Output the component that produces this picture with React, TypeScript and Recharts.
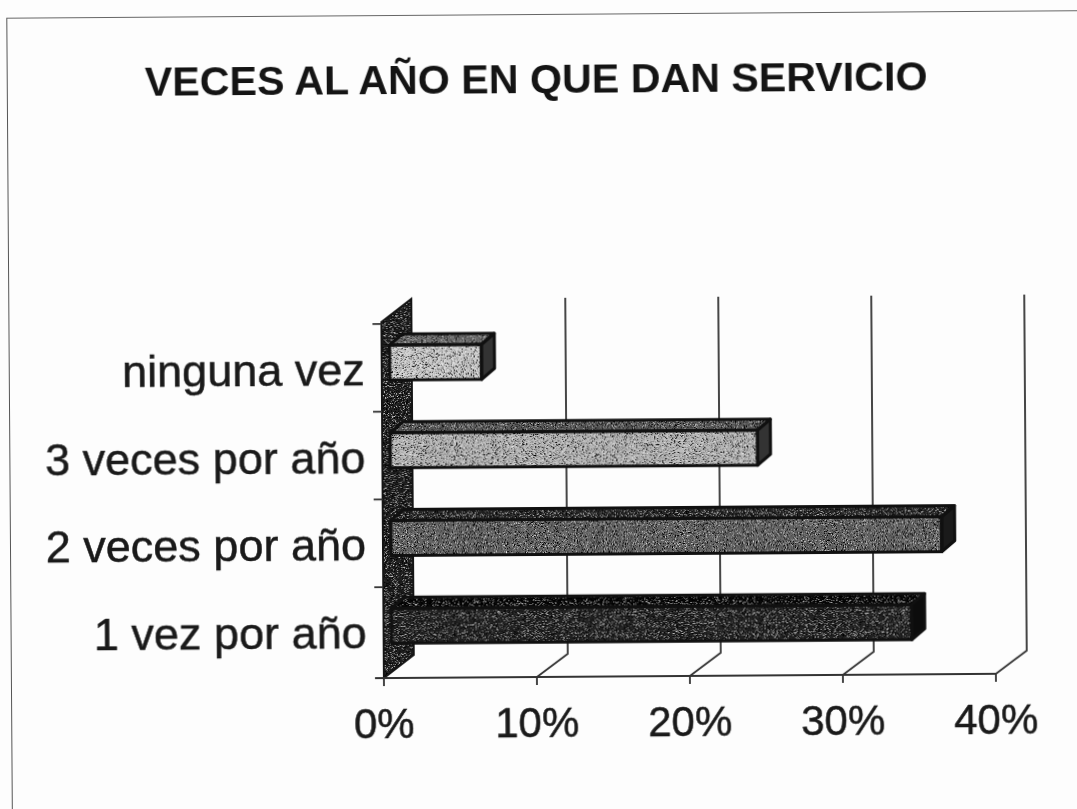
import React from "react";
import { BarChart, Bar, CartesianGrid, XAxis, YAxis } from "recharts";

const categories = ["ninguna vez", "3 veces por año", "2 veces por año", "1 vez por año"];
const values = [6, 24, 36, 34];
const xTicks = [0, 10, 20, 30, 40];
const frontColors = ["#d2d2d2", "#bcbcbc", "#666666", "#262626"];
const topColors = ["#6e6e6e", "#5a5a5a", "#2c2c2c", "#0e0e0e"];
const sideColors = ["#333333", "#333333", "#1a1a1a", "#0c0c0c"];

const data = categories.map((name, i) => ({ name, value: values[i] }));

const FONT = "'Liberation Sans', Arial, sans-serif";
const INK = "#1a1a1a";
const FLOOR_Y = 677;
const WALL_TOP = 298;
const FRONT_SHIFT = 8; // bars sit a little behind the front edge of the floor
const DEPTH_X = 31;
const DEPTH_Y = 23;
const BAR_DX = 13;
const BAR_DY = 11;

const ThreeDBar = (props: any) => {
  const { x, y, width, height, index } = props;
  const top = `M${x},${y} L${x + BAR_DX},${y - BAR_DY} L${x + width + BAR_DX},${y - BAR_DY} L${x + width},${y} Z`;
  const side = `M${x + width},${y} L${x + width + BAR_DX},${y - BAR_DY} L${x + width + BAR_DX},${y + height - BAR_DY} L${x + width},${y + height} Z`;
  return (
    <g stroke="#101010" strokeWidth={3} strokeLinejoin="round">
      <rect x={x} y={y} width={width} height={height} fill={frontColors[index]} filter="url(#grain)" stroke="none" />
      <path d={top} fill={topColors[index]} filter="url(#grain)" stroke="none" />
      <path d={side} fill={sideColors[index]} stroke="none" />
      <rect x={x} y={y} width={width} height={height} fill="none" />
      <path d={top} fill="none" />
      <path d={side} fill="none" />
    </g>
  );
};

// back wall lines, floor diagonals, floor line and left wall
const WallLine = (props: any) => {
  const x = props.x1 - FRONT_SHIFT;
  if (props.index === 0) {
    const wall = `M${x},${FLOOR_Y} L${x + DEPTH_X - 1},${FLOOR_Y - DEPTH_Y} L${x + DEPTH_X - 1},${WALL_TOP} L${x},${WALL_TOP + DEPTH_Y} Z`;
    return (
      <g>
        <path d={wall} fill="#222222" filter="url(#grain)" />
        <path d={wall} fill="none" stroke="#141414" strokeWidth={2} />
        <line x1={x - 8} y1={FLOOR_Y} x2={x + 612} y2={FLOOR_Y} stroke="#333" strokeWidth={1.8} />
      </g>
    );
  }
  return (
    <path
      d={`M${x},${FLOOR_Y} L${x + DEPTH_X},${FLOOR_Y - DEPTH_Y} L${x + DEPTH_X},${WALL_TOP}`}
      fill="none"
      stroke="#333"
      strokeWidth={1.8}
    />
  );
};

const XTick = (props: any) => {
  const { x, payload } = props;
  const fx = x - FRONT_SHIFT;
  return (
    <g>
      <line x1={fx} y1={FLOOR_Y} x2={fx} y2={FLOOR_Y + 8} stroke="#333" strokeWidth={1.8} />
      <text x={fx} y={737} textAnchor="middle" fontFamily={FONT} fontSize={42} fill={INK} stroke={INK} strokeWidth={0.5}>
        {payload.value}%
      </text>
    </g>
  );
};

const YTick = (props: any) => {
  const { y, payload, index } = props;
  return (
    <g>
      <line x1={373} y1={y - 39} x2={382} y2={y - 39} stroke="#333" strokeWidth={1.8} />
      {index === categories.length - 1 && (
        <line x1={373} y1={FLOOR_Y} x2={382} y2={FLOOR_Y} stroke="#333" strokeWidth={1.8} />
      )}
      <text x={365} y={y + 22} textAnchor="end" fontFamily={FONT} fontSize={45} fill={INK} stroke={INK} strokeWidth={0.5}>
        {payload.value}
      </text>
    </g>
  );
};

export default function App() {
  return (
    <div style={{ position: "absolute", left: 0, top: 0, width: 1077, height: 809, overflow: "hidden", background: "#fdfdfd" }}>
      <svg width={0} height={0} style={{ position: "absolute" }}>
        <defs>
          <filter id="grain" x="0" y="0" width="100%" height="100%">
            <feTurbulence type="fractalNoise" baseFrequency="1.1" numOctaves={2} seed={4} result="noise" />
            <feColorMatrix
              in="noise"
              type="matrix"
              values="0 0 0 0 0  0 0 0 0 0  0 0 0 0 0  5 0 0 0 -2.4"
              result="dark"
            />
            <feColorMatrix
              in="noise"
              type="matrix"
              values="0 0 0 0 1  0 0 0 0 1  0 0 0 0 1  0 3 0 0 -1.75"
              result="light"
            />
            <feMerge result="speck">
              <feMergeNode in="dark" />
              <feMergeNode in="light" />
            </feMerge>
            <feComposite in="speck" in2="SourceGraphic" operator="in" result="clipped" />
            <feMerge>
              <feMergeNode in="SourceGraphic" />
              <feMergeNode in="clipped" />
            </feMerge>
          </filter>
        </defs>
      </svg>
      <div
        style={{
          position: "absolute",
          left: 0,
          top: 0,
          width: 1077,
          height: 809,
          transform: "rotate(-0.4deg)",
          transformOrigin: "538px 404px",
          filter: "blur(0.45px)",
        }}
      >
        <div style={{ position: "absolute", left: 9, top: 14, width: 1090, height: 900, borderLeft: "1.5px solid #555", borderTop: "1.5px solid #666" }} />
        <div
          style={{
            position: "absolute",
            left: 147,
            top: 56,
            fontFamily: FONT,
            fontWeight: 700,
            fontSize: 41.2,
            lineHeight: "46px",
            color: "#141414",
            whiteSpace: "nowrap",
          }}
        >
          VECES AL AÑO EN QUE DAN SERVICIO
        </div>
        <div style={{ position: "absolute", left: 0, top: 0 }}>
          <BarChart
            width={1077}
            height={809}
            data={data}
            layout="vertical"
            margin={{ top: 318, right: 75, bottom: 80, left: 10 }}
            barSize={35}
          >
            <CartesianGrid horizontal={false} vertical={(p: any) => <WallLine key={p.index} {...p} />} />
            <XAxis
              type="number"
              dataKey="value"
              domain={[0, 40]}
              ticks={xTicks}
              height={60}
              axisLine={false}
              tickLine={false}
              tick={(p: any) => <XTick {...p} />}
              interval={0}
            />
            <YAxis
              type="category"
              dataKey="name"
              width={380}
              axisLine={false}
              tickLine={false}
              tick={(p: any) => <YTick {...p} />}
              interval={0}
            />
            <Bar dataKey="value" isAnimationActive={false} shape={(p: any) => <ThreeDBar {...p} />} />
          </BarChart>
        </div>
      </div>
    </div>
  );
}
